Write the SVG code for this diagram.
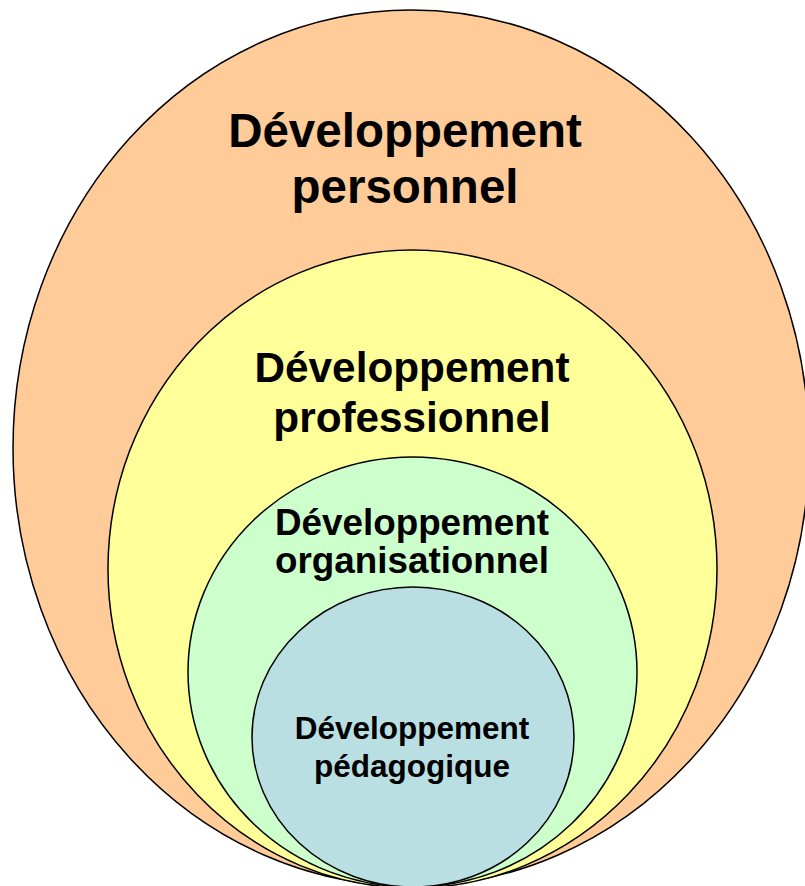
<svg xmlns="http://www.w3.org/2000/svg" width="805" height="886" viewBox="0 0 805 886">
<style>
.e{stroke:#000;stroke-width:1.5}
.t{font-family:"Liberation Sans",Arial,sans-serif;font-weight:bold;fill:#000;text-anchor:middle}
</style>
<rect width="805" height="886" fill="#fff"/>
<g id="personnel">
<ellipse class="e" cx="411" cy="448" rx="398" ry="438" fill="#FFCC99"/>
<text class="t" x="405" y="147" font-size="47.5">Développement</text>
<text class="t" x="405" y="203" font-size="47.5">personnel</text>
</g>
<g id="professionnel">
<ellipse class="e" cx="412.5" cy="569" rx="304.5" ry="319" fill="#FFFF99"/>
<text class="t" x="412" y="382" font-size="42.3">Développement</text>
<text class="t" x="412" y="432" font-size="42.3">professionnel</text>
</g>
<g id="organisationnel">
<ellipse class="e" cx="412.5" cy="672" rx="224.5" ry="215" fill="#CCFFCC"/>
<text class="t" x="412" y="535" font-size="36.8">Développement</text>
<text class="t" x="412" y="573" font-size="36.8">organisationnel</text>
</g>
<g id="pedagogique">
<ellipse class="e" cx="413" cy="737" rx="161" ry="150" fill="#B9DFE3"/>
<text class="t" x="412" y="739" font-size="31.5">Développement</text>
<text class="t" x="412" y="777" font-size="31.5">pédagogique</text>
</g>
<g id="connectors"/>
</svg>
